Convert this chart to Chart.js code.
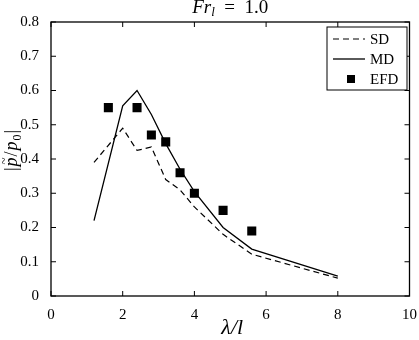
<!DOCTYPE html>
<html>
<head>
<meta charset="utf-8">
<script src="https://cdn.jsdelivr.net/npm/chart.js@4.4.1/dist/chart.umd.min.js"></script>
<style>
  html, body { margin: 0; padding: 0; background: #fff; }
  #wrap { width: 419px; height: 340px; }
</style>
</head>
<body>
<div id="wrap"><canvas id="grafica" width="419" height="340"></canvas></div>
<script>
// datos
const lambdaSim = [1.2, 2.0, 2.4, 2.8, 3.2, 3.6, 4.0, 4.8, 5.6, 8.0];
const valoresSD = [0.39, 0.49, 0.425, 0.435, 0.34, 0.31, 0.26, 0.18, 0.122, 0.052];
const valoresMD = [0.22, 0.555, 0.60, 0.53, 0.445, 0.37, 0.305, 0.20, 0.137, 0.058];
const lambdaEFD = [1.6, 2.4, 2.8, 3.2, 3.6, 4.0, 4.8, 5.6];
const valoresEFD = [0.55, 0.55, 0.47, 0.45, 0.36, 0.30, 0.25, 0.19];
const ticksX = [0, 2, 4, 6, 8, 10];
const ticksY = [0, 0.1, 0.2, 0.3, 0.4, 0.5, 0.6, 0.7, 0.8];

const fuente = "'Liberation Serif', 'Times New Roman', serif";

const aPuntos = (xs, ys) => xs.map((x, i) => ({ x: x, y: ys[i] }));

// Dibuja marco, ticks hacia dentro, titulo, etiquetas y leyenda
const marcoMatlab = {
  id: 'marcoMatlab',
  afterDraw(chart) {
    const ctx = chart.ctx;
    const area = chart.chartArea;
    const ex = chart.scales.x;
    const ey = chart.scales.y;
    ctx.save();
    ctx.strokeStyle = '#000';
    ctx.lineWidth = 1.3;
    ctx.strokeRect(area.left, area.top, area.right - area.left, area.bottom - area.top);

    ctx.lineWidth = 1;
    ctx.beginPath();
    ticksX.forEach(v => {
      const px = ex.getPixelForValue(v);
      ctx.moveTo(px, area.bottom); ctx.lineTo(px, area.bottom - 5);
      ctx.moveTo(px, area.top); ctx.lineTo(px, area.top + 5);
    });
    ticksY.forEach(v => {
      const py = ey.getPixelForValue(v);
      ctx.moveTo(area.left, py); ctx.lineTo(area.left + 5, py);
      ctx.moveTo(area.right, py); ctx.lineTo(area.right - 5, py);
    });
    ctx.stroke();

    ctx.fillStyle = '#000';
    ctx.textBaseline = 'alphabetic';

    // titulo Fr_l = 1.0
    const cx = (area.left + area.right) / 2;
    const partesTitulo = [
      { t: 'Fr', f: 'italic 19px ' + fuente, dy: 0 },
      { t: 'l', f: 'italic 13px ' + fuente, dy: 3 },
      { t: '  =  1.0', f: '19px ' + fuente, dy: 0 }
    ];
    let anchoT = 0;
    partesTitulo.forEach(p => { ctx.font = p.f; p.w = ctx.measureText(p.t).width; anchoT += p.w; });
    let xT = cx - anchoT / 2;
    partesTitulo.forEach(p => { ctx.font = p.f; ctx.textAlign = 'left'; ctx.fillText(p.t, xT, 13 + p.dy); xT += p.w; });

    // etiqueta eje x
    ctx.font = 'italic 22px ' + fuente;
    ctx.textAlign = 'center';
    ctx.fillText('\u03bb/l', cx + 2, 334);

    // etiqueta eje y |p~/p0|
    ctx.save();
    ctx.translate(17, 150);
    ctx.rotate(-Math.PI / 2);
    const partesY = [
      { t: '|', f: '18px ' + fuente, dy: 0 },
      { t: 'p', f: 'italic 18px ' + fuente, dy: 0, tilde: true },
      { t: '/', f: '18px ' + fuente, dy: 0 },
      { t: 'p', f: 'italic 18px ' + fuente, dy: 0 },
      { t: '0', f: '12px ' + fuente, dy: 4 },
      { t: '|', f: '18px ' + fuente, dy: 0 }
    ];
    let anchoY = 0;
    partesY.forEach(p => { ctx.font = p.f; p.w = ctx.measureText(p.t).width + 1; anchoY += p.w; });
    let xY = -anchoY / 2;
    ctx.textAlign = 'left';
    partesY.forEach(p => {
      ctx.font = p.f;
      ctx.fillText(p.t, xY, p.dy);
      if (p.tilde) {
        ctx.font = '13px ' + fuente;
        ctx.fillText('~', xY + 2, -9);
      }
      xY += p.w;
    });
    ctx.restore();

    // leyenda
    const lx = 327, ly = 27, lw = 80, lh = 63;
    ctx.fillStyle = '#fff';
    ctx.fillRect(lx, ly, lw, lh);
    ctx.strokeStyle = '#000';
    ctx.lineWidth = 1;
    ctx.strokeRect(lx, ly, lw, lh);
    const filas = [39, 59, 79];
    chart.data.datasets.forEach((ds, i) => {
      const y = filas[i];
      ctx.strokeStyle = ds.borderColor;
      ctx.fillStyle = ds.backgroundColor;
      if (ds.showLine === false) {
        ctx.fillRect(347, y - 4, 8, 8);
      } else {
        ctx.lineWidth = ds.borderWidth;
        ctx.setLineDash(ds.borderDash || []);
        ctx.beginPath();
        ctx.moveTo(333, y); ctx.lineTo(365, y);
        ctx.stroke();
        ctx.setLineDash([]);
      }
      ctx.fillStyle = '#000';
      ctx.font = '15px ' + fuente;
      ctx.textAlign = 'left';
      ctx.textBaseline = 'middle';
      ctx.fillText(ds.label, 370, y + 1);
    });
    ctx.restore();
  }
};

const contexto = document.getElementById('grafica').getContext('2d');
const grafico = new Chart(contexto, {
  type: 'scatter',
  data: {
    datasets: [{
      label: 'SD',
      data: aPuntos(lambdaSim, valoresSD),
      showLine: true,
      borderColor: '#000',
      backgroundColor: '#000',
      borderWidth: 1.2,
      borderDash: [6, 4],
      pointRadius: 0,
      tension: 0
    }, {
      label: 'MD',
      data: aPuntos(lambdaSim, valoresMD),
      showLine: true,
      borderColor: '#000',
      backgroundColor: '#000',
      borderWidth: 1.3,
      pointRadius: 0,
      tension: 0
    }, {
      label: 'EFD',
      data: aPuntos(lambdaEFD, valoresEFD),
      showLine: false,
      borderColor: '#000',
      backgroundColor: '#000',
      pointStyle: 'rect',
      pointRadius: 6.4,
      borderWidth: 0
    }]
  },
  options: {
    responsive: false,
    animation: false,
    devicePixelRatio: 1,
    layout: { padding: { left: 0, right: 8, top: 22, bottom: 0 } },
    plugins: {
      legend: { display: false },
      title: { display: false },
      tooltip: { enabled: false }
    },
    scales: {
      x: {
        type: 'linear',
        min: 0, max: 10,
        afterFit: s => { s.height = 44; },
        afterBuildTicks: s => { s.ticks = ticksX.map(v => ({ value: v })); },
        grid: { display: false },
        border: { display: false },
        ticks: { color: '#000', font: { family: fuente, size: 15 }, padding: 2, maxRotation: 0 }
      },
      y: {
        type: 'linear',
        min: 0, max: 0.8,
        afterFit: s => { s.width = 51; },
        afterBuildTicks: s => { s.ticks = ticksY.map(v => ({ value: v })); },
        grid: { display: false },
        border: { display: false },
        ticks: { color: '#000', font: { family: fuente, size: 15 }, padding: 4 }
      }
    }
  },
  plugins: [marcoMatlab]
});
</script>
</body>
</html>
